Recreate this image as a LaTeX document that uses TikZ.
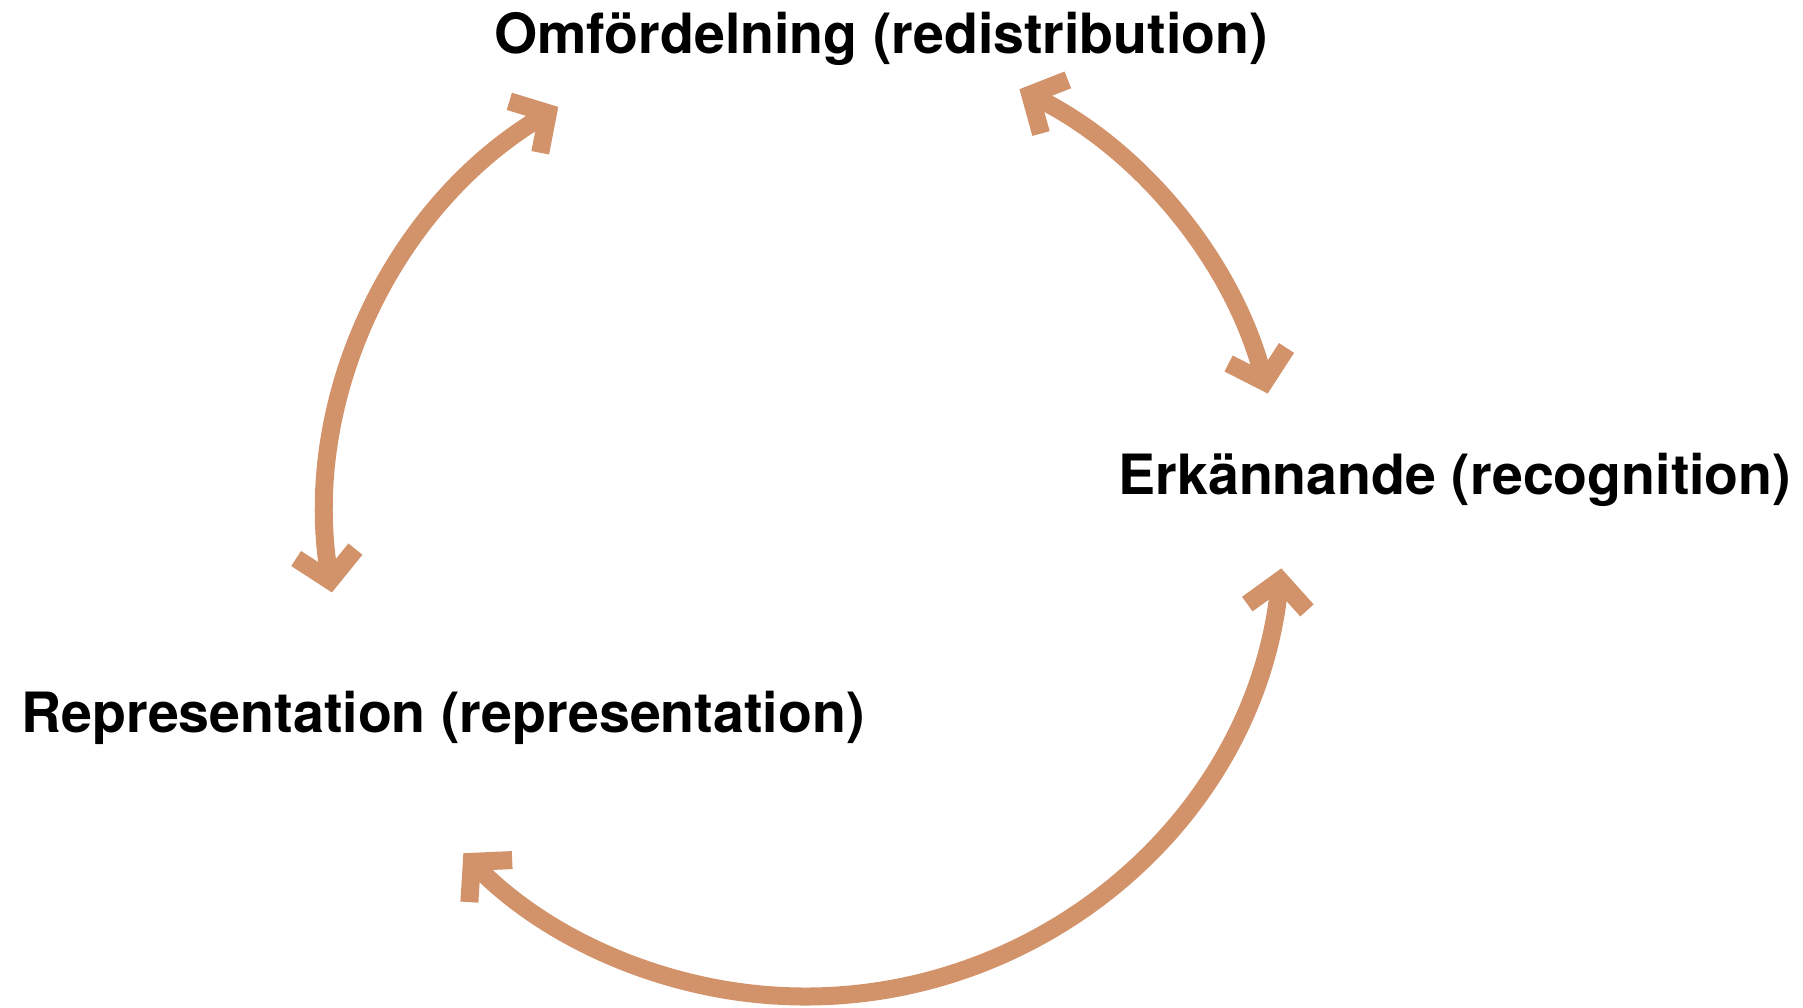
\documentclass[tikz,border=0pt]{standalone}
\usepackage{fontspec}
\setmainfont{TeX Gyre Heros}
\usetikzlibrary{arrows.meta}
\definecolor{arrcol}{RGB}{210,146,106}
\tikzset{barbtip/.tip={Straight Barb[length=27pt,width=60pt]}}
\begin{document}
\begin{tikzpicture}[x=1pt,y=1pt,
  lbl/.style={font=\fontsize{55.5}{60}\selectfont\bfseries, inner sep=0pt, anchor=center},
  cyc/.style={draw=arrcol, line width=18pt, barbtip-barbtip}]
\useasboundingbox (0,0) rectangle (1803,1008);
\coordinate (O) at (805,490.5);
\node[lbl] (red) at (881,969.5) {Omfördelning (redistribution)};
\node[lbl] (rec) at (1455,528.5) {Erkännande (recognition)};
\node[lbl] (rep) at (443,290.5) {Representation (representation)};
\path (O) ++(189:479) coordinate (a1);
\path (O) ++(63.4:479) coordinate (b1);
\path (O) ++(-6.1:479) coordinate (c1);
\draw[cyc] (a1) arc[start angle=189, end angle=121, radius=479];
\draw[cyc] (b1) arc[start angle=63.4, end angle=15, radius=479];
\draw[cyc] (c1) arc[start angle=-6.1, end angle=-135.5, radius=479];
\end{tikzpicture}
\end{document}
